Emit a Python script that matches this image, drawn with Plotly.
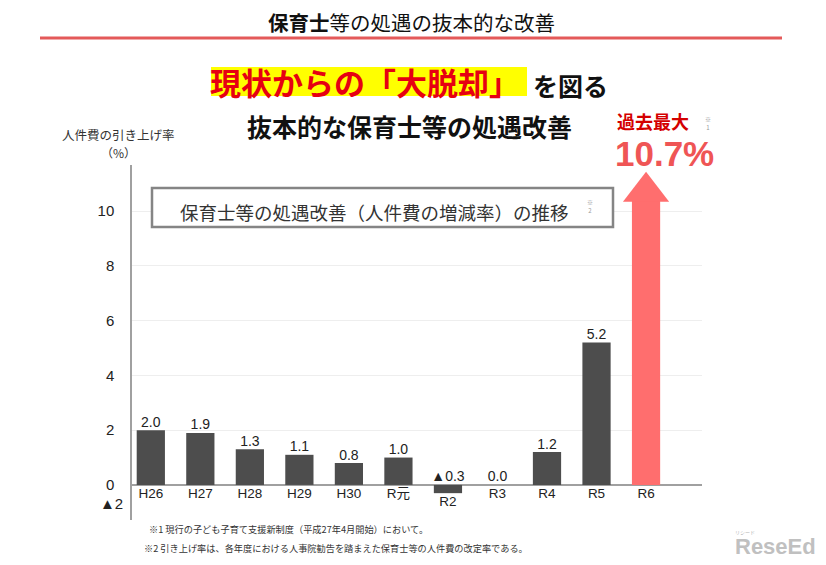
import plotly.graph_objects as go

# ---------------- data ----------------
categories = ["H26", "H27", "H28", "H29", "H30", "R元", "R2", "R3", "R4", "R5", "R6"]
rates = [2.0, 1.9, 1.3, 1.1, 0.8, 1.0, -0.3, 0.0, 1.2, 5.2, 10.7]
rate_labels = ["2.0", "1.9", "1.3", "1.1", "0.8", "1.0", "▲0.3", "0.0", "1.2", "5.2", ""]
y_ticks = [0, 2, 4, 6, 8, 10]
y_ticktext = ["0", "2", "4", "6", "8", "10"]
neg_label = "▲2"

# ---------------- layout geometry (page has an 8px body margin) ----------------
OFF = 8
W, H = 826 - OFF, 565 - OFF
ML, MR, MT, MB = 132 - OFF, 124, 165 - OFF, 45
PW, PH = W - ML - MR, H - MT - MB


def px(x):
    return (x - OFF - ML) / PW


def py(y):
    return (H - MB - (y - OFF)) / PH


DARK = "#4d4d4d"
RED = "#ff6e6e"
CJK = "Noto Sans CJK JP"
LAT = "Liberation Sans, Arial, Noto Sans CJK JP"

bar_colors = [DARK] * (len(categories) - 1) + [RED]

fig = go.Figure()

fig.add_trace(go.Bar(
    x=categories, y=rates, width=0.57,
    marker=dict(color=bar_colors, line=dict(width=0)),
    hoverinfo="skip", showlegend=False,
))

# arrow head on top of the highlighted (last) bar
fig.add_trace(go.Scatter(
    x=[categories[-1]], y=[rates[-1]], mode="markers",
    marker=dict(symbol="triangle-up", size=40, color=RED, line=dict(width=0)),
    hoverinfo="skip", showlegend=False, cliponaxis=False,
))

# value labels
fig.add_trace(go.Scatter(
    x=categories, y=[max(v, 0) for v in rates], mode="text",
    text=rate_labels, textposition="top center",
    textfont=dict(family=LAT, size=14, color="#222222"),
    hoverinfo="skip", showlegend=False, cliponaxis=False,
))

# category labels under the zero line
fig.add_trace(go.Scatter(
    x=categories, y=[min(v, 0) - 0.1 for v in rates], mode="text",
    text=categories, textposition="bottom center",
    textfont=dict(family=LAT, size=13.5, color="#222222"),
    hoverinfo="skip", showlegend=False, cliponaxis=False,
))

fig.update_xaxes(
    type="category", range=[-0.38, 11.13],
    showticklabels=False, showgrid=False, zeroline=False, showline=False,
)
fig.update_yaxes(
    range=[-1.28, 11.68], tickvals=y_ticks, ticktext=y_ticktext,
    ticks="outside", ticklen=13, tickcolor="rgba(0,0,0,0)",
    tickfont=dict(family=LAT, size=15, color="#222222"),
    showgrid=True, gridcolor="#eeeeee", gridwidth=1,
    zeroline=True, zerolinecolor="#a0a0a0", zerolinewidth=1.5,
    showline=True, linecolor="#a0a0a0", linewidth=1.5,
)

shapes = [
    # red rule under title
    dict(type="line", xref="paper", yref="paper", x0=px(40), x1=px(782),
         y0=py(38), y1=py(38), line=dict(color="#e45a5a", width=3)),
    # yellow highlight
    dict(type="rect", xref="paper", yref="paper", x0=px(211), x1=px(527),
         y0=py(96), y1=py(67), fillcolor="#ffff00", line=dict(width=0), layer="below"),
    # boxed subtitle
    dict(type="rect", xref="paper", yref="paper", x0=px(152), x1=px(613),
         y0=py(227), y1=py(188), fillcolor="white",
         line=dict(color="#858585", width=2.5), layer="above"),
]

annotations = []


def note(text, x, y, size, color="#222222", family=CJK, xanchor="center", yanchor="middle"):
    annotations.append(dict(
        text=text, x=px(x), y=py(y), xref="paper", yref="paper",
        xanchor=xanchor, yanchor=yanchor, showarrow=False,
        font=dict(family=family, size=size, color=color), borderpad=0,
    ))


note("<b>保育士</b>等の処遇の抜本的な改善", 411, 22, 20.5, "#111111")
note("<b>現状からの「大脱却」</b>", 209, 81, 31, "#e60012", xanchor="left")
note("<b>を図る</b>", 532, 85, 25, "#111111", xanchor="left")
note("<b>抜本的な保育士等の処遇改善</b>", 409, 126, 25, "#111111")
note("人件費の引き上げ率", 118, 135, 12.5, "#333333")
note("（%）", 118, 152, 12, "#333333")
note("<b>過去最大</b>", 653, 121, 18, "#d40000")
note("※<br>1", 708, 124, 6, "#999999")
note("<b>10.7%</b>", 664, 153, 35, "#ef5555", family=LAT)
note("保育士等の処遇改善（人件費の増減率）の推移", 179, 212, 18.5, "#333333", xanchor="left")
note("※<br>2", 590, 206, 6, "#999999")
note("※1 現行の子ども子育て支援新制度（平成27年4月開始）において。", 148, 529, 9.2, "#333333", xanchor="left")
note("※2 引き上げ率は、各年度における人事院勧告を踏まえた保育士等の人件費の改定率である。", 143, 548, 9.2, "#333333", xanchor="left")
note("リシード", 745, 531, 5, "#b5b5b5")
note("<b>ReseEd</b>", 775, 546, 22, "#c0c0c0", family=LAT)

# ▲2 label below zero on the value axis
annotations.append(dict(
    text=neg_label, x=0, xref="paper", y=-0.69, yref="y",
    xanchor="right", yanchor="middle", xshift=-7, showarrow=False,
    font=dict(family=LAT, size=15, color="#222222"),
))

fig.update_layout(
    width=W, height=H,
    margin=dict(l=ML, r=MR, t=MT, b=MB),
    paper_bgcolor="white", plot_bgcolor="white",
    shapes=shapes, annotations=annotations,
    bargap=0.4, showlegend=False,
)

fig.write_html("out.html")
